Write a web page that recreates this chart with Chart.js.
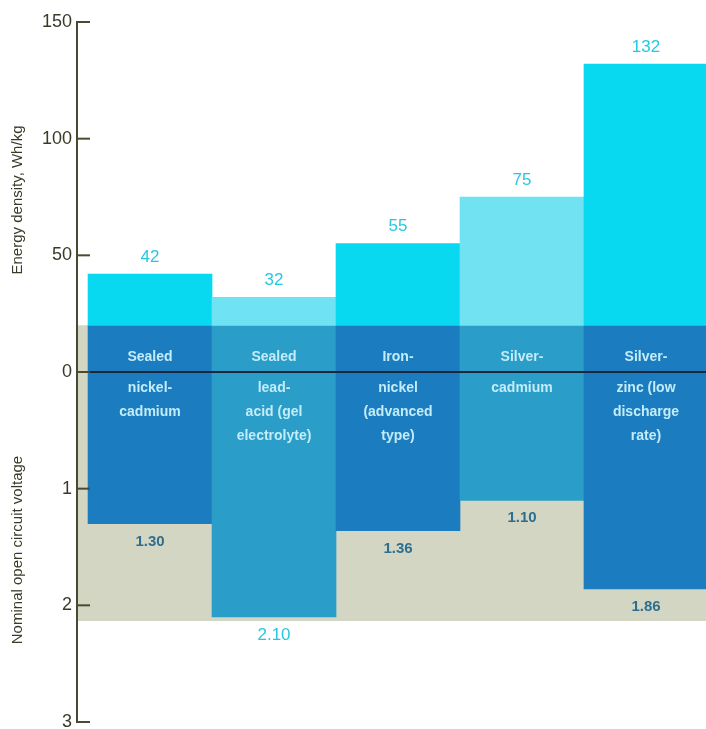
<!DOCTYPE html>
<html>
<head>
<meta charset="utf-8">
<script src="https://cdn.jsdelivr.net/npm/chart.js@4.4.1/dist/chart.umd.min.js"></script>
<style>
  html, body { margin: 0; padding: 0; background: #fff; }
  #wrap { width: 706px; height: 729px; }
</style>
</head>
<body>
<div id="wrap"><canvas id="batteryChart"></canvas></div>
<script>
// battery types, one label line per entry
var batteries = [
  ["Sealed", "nickel-", "cadmium"],
  ["Sealed", "lead-", "acid (gel", "electrolyte)"],
  ["Iron-", "nickel", "(advanced", "type)"],
  ["Silver-", "cadmium"],
  ["Silver-", "zinc (low", "discharge", "rate)"]
];
var energyDensity = [42, 32, 55, 75, 132];   // Wh/kg
var voltage = [1.30, 2.10, 1.36, 1.10, 1.86]; // V
var energyTicks = [150, 100, 50, 0];
var voltageTicks = [1, 2, 3];

var VOLT = 50;      // 1 V drawn as tall as 50 Wh/kg
var BAND_TOP = 20;  // where the dark body of each column starts

var topColors = ["#08d8f0", "#6fe3f3", "#08d8f0", "#70e2f2", "#08d8f0"];
var bodyColors = ["#1b7dc0", "#2a9ec8", "#1b7dc0", "#2a9ec8", "#1b7dc0"];

var decorations = {
  id: "decorations",
  beforeDatasetsDraw: function (chart) {
    var ctx = chart.ctx, y = chart.scales.y, area = chart.chartArea;
    var top = y.getPixelForValue(BAND_TOP);
    var bottom = y.getPixelForValue(-Math.max.apply(null, voltage) * VOLT) + 4;
    ctx.save();
    ctx.fillStyle = "#d3d6c3";
    ctx.fillRect(area.left + 1, top, area.right - area.left, bottom - top);
    ctx.restore();
  },
  afterDatasetsDraw: function (chart) {
    var ctx = chart.ctx, y = chart.scales.y, x = chart.scales.x, area = chart.chartArea;
    var zero = y.getPixelForValue(0);
    var bandBottom = y.getPixelForValue(-Math.max.apply(null, voltage) * VOLT) + 4;
    ctx.save();

    // zero line
    ctx.strokeStyle = "#17263a";
    ctx.lineWidth = 2;
    ctx.beginPath();
    ctx.moveTo(area.left, zero);
    ctx.lineTo(area.right, zero);
    ctx.stroke();

    // tick marks point inward
    ctx.strokeStyle = "#4a4a32";
    ctx.lineWidth = 2;
    var all = energyTicks.concat(voltageTicks.map(function (v) { return -v * VOLT; }));
    all.forEach(function (v) {
      var py = y.getPixelForValue(v);
      ctx.beginPath();
      ctx.moveTo(area.left, py);
      ctx.lineTo(area.left + 13, py);
      ctx.stroke();
    });

    ctx.textAlign = "center";
    ctx.textBaseline = "middle";

    // energy values
    ctx.font = "17px 'Liberation Sans', sans-serif";
    ctx.fillStyle = "#27c7e2";
    energyDensity.forEach(function (e, i) {
      ctx.fillText(String(e), x.getPixelForValue(i), y.getPixelForValue(e) - 17);
    });

    // voltage values
    voltage.forEach(function (v, i) {
      var py = y.getPixelForValue(-v * VOLT) + 18;
      ctx.fillStyle = py < bandBottom ? "#2e6f90" : "#27c7e2";
      ctx.font = py < bandBottom ? "bold 15px 'Liberation Sans', sans-serif" : "17px 'Liberation Sans', sans-serif";
      ctx.fillText(v.toFixed(2), x.getPixelForValue(i), py);
    });

    // battery names
    ctx.font = "bold 14px 'Liberation Sans', sans-serif";
    ctx.fillStyle = "#c3ecf8";
    batteries.forEach(function (lines, i) {
      lines.forEach(function (t, k) {
        var py = k === 0 ? zero - 15 : zero + 16 + 24 * (k - 1);
        ctx.fillText(t, x.getPixelForValue(i), py);
      });
    });

    // axis titles
    ctx.font = "15px 'Liberation Sans', sans-serif";
    ctx.fillStyle = "#3a3a28";
    ctx.translate(18, 200);
    ctx.rotate(-Math.PI / 2);
    ctx.fillText("Energy density, Wh/kg", 0, 0);
    ctx.rotate(Math.PI / 2);
    ctx.translate(0, 350);
    ctx.rotate(-Math.PI / 2);
    ctx.fillText("Nominal open circuit voltage", 0, 0);
    ctx.restore();
  }
};

var ctxB = document.getElementById("batteryChart").getContext("2d");
var myChart = new Chart(ctxB, {
  type: "bar",
  data: {
    datasets: [
      {
        label: "Energy density",
        data: energyDensity.map(function (e, i) { return { x: i, y: [BAND_TOP, e] }; }),
        backgroundColor: topColors,
        grouped: false,
        barThickness: 124
      },
      {
        label: "Voltage",
        data: voltage.map(function (v, i) { return { x: i, y: [-v * VOLT, BAND_TOP] }; }),
        backgroundColor: bodyColors,
        grouped: false,
        barThickness: 124
      }
    ]
  },
  options: {
    responsive: true,
    maintainAspectRatio: false,
    animation: false,
    layout: { padding: { top: 22, bottom: 7, left: 0, right: 0 } },
    plugins: { legend: { display: false }, tooltip: { enabled: false } },
    scales: {
      x: {
        type: "linear",
        offset: false,
        min: -0.589,
        max: 4.484,
        display: false
      },
      y: {
        min: -150,
        max: 150,
        afterFit: function (scale) {
          scale.width = 77;
          scale.paddingTop = 0;
          scale.paddingBottom = 0;
        },
        afterBuildTicks: function (scale) {
          scale.ticks = energyTicks.concat(voltageTicks.map(function (v) { return -v * VOLT; }))
            .map(function (v) { return { value: v }; });
        },
        ticks: {
          padding: 5,
          color: "#3a3a28",
          font: { family: "'Liberation Sans', sans-serif", size: 18 },
          callback: function (v) { return v >= 0 ? String(v) : String(-v / VOLT); }
        },
        grid: { display: false, drawTicks: false },
        border: { display: true, color: "#4a4a32", width: 2 }
      }
    }
  },
  plugins: [decorations]
});
</script>
</body>
</html>
